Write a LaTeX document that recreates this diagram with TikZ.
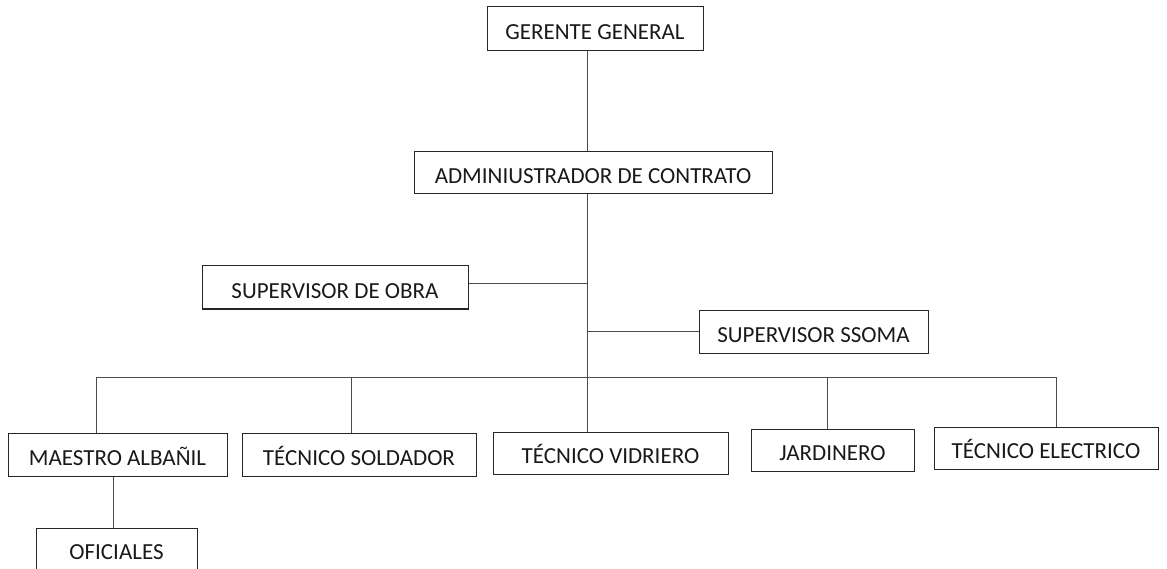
\documentclass[tikz,border=0pt]{standalone}
\usepackage{fontspec}
\setmainfont{Carlito}
\begin{document}
\begin{tikzpicture}[x=1pt,y=-1pt,
  orgbox/.style={draw=black!85, line width=1pt, inner sep=0pt, text height=21.5pt, text depth=0pt,
    font=\fontsize{23}{27}\selectfont, text=black!90},
  link/.style={draw=black!70, line width=1pt}]
\useasboundingbox (0,0) rectangle (1167,569);
\clip (0,0) rectangle (1167,569);
\node[orgbox, minimum width=216pt, minimum height=44pt] (ger) at (595,29) {GERENTE GENERAL};
\node[orgbox, minimum width=358pt, minimum height=42pt] (adm) at (593,173) {ADMINIUSTRADOR DE CONTRATO};
\node[orgbox, minimum width=266pt, minimum height=43pt] (sob) at (335,287.5) {SUPERVISOR DE OBRA};
\node[orgbox, minimum width=229pt, minimum height=43pt] (sso) at (813.5,331.5) {SUPERVISOR SSOMA};
\node[orgbox, minimum width=219pt, minimum height=43pt] (mae) at (117.5,454.5) {MAESTRO ALBAÑIL};
\node[orgbox, minimum width=234pt, minimum height=43pt] (sol) at (359,454.5) {TÉCNICO SOLDADOR};
\node[orgbox, minimum width=235pt, minimum height=42pt] (vid) at (610.5,453) {TÉCNICO VIDRIERO};
\node[orgbox, minimum width=163pt, minimum height=42pt] (jar) at (832.5,450) {JARDINERO};
\node[orgbox, minimum width=224pt, minimum height=42pt] (ele) at (1046,448) {TÉCNICO ELECTRICO};
\node[orgbox, minimum width=161pt, minimum height=42pt] (ofi) at (116.5,549) {OFICIALES};
\coordinate (tx) at (587.5,0);
\coordinate (jsob) at (587.5,284);
\coordinate (bL) at (96,377);
\coordinate (bR) at (1056,377);
\coordinate (dsol) at (351,377);
\coordinate (djar) at (827,377);
\coordinate (dofi) at (113,500);
\draw[link] (ger.south -| tx) -- (adm.north -| tx);
\draw[link] (adm.south -| tx) -- (vid.north -| tx);
\draw[link] (jsob) -- (jsob -| sob.east);
\draw[link] (sso.west) -- (sso.west -| tx);
\draw[link] (mae.north -| bL) |- (bR) -- (ele.north -| bR);
\draw[link] (dsol) -- (sol.north -| dsol);
\draw[link] (djar) -- (jar.north -| djar);
\draw[link] (mae.south -| dofi) -- (ofi.north -| dofi);
\end{tikzpicture}
\end{document}
